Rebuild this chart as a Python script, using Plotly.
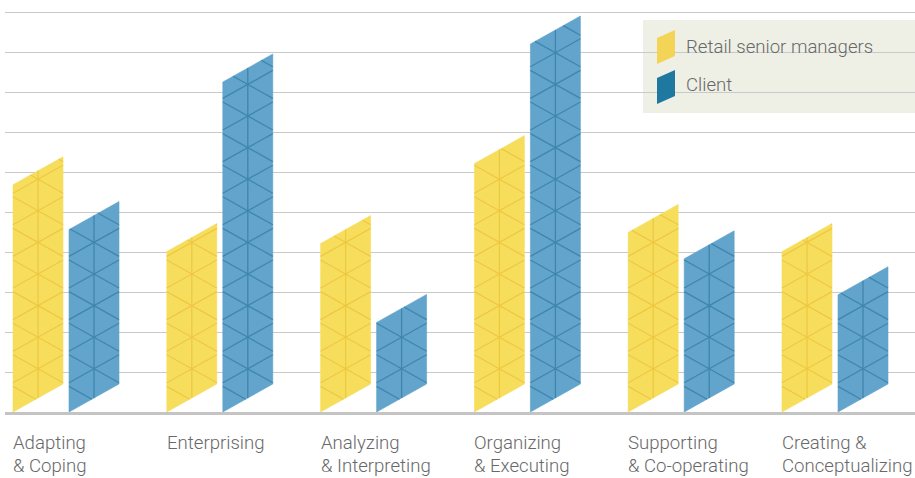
import plotly.graph_objects as go

# ---------------- data ----------------
categories = ["Adapting<br>& Coping", "Enterprising", "Analyzing<br>& Interpreting",
              "Organizing<br>& Executing", "Supporting<br>& Co-operating",
              "Creating &<br>Conceptualizing"]
retail = [5.68, 4.01, 4.21, 6.21, 4.49, 4.01]
client = [4.56, 8.25, 2.24, 9.20, 3.83, 2.93]
series_names = ["Retail senior managers", "Client"]

# ---------------- layout constants ----------------
W, H = 915, 478
ML, MR, MT, MB = 5, 0, 8, 66
PW = W - ML - MR
PH = H - MT - MB           # 404 px
PX_PER_UNIT = 40.0
YMAX = PH / PX_PER_UNIT    # 10.1 -> top gridline (10) stays inside
UPX = 1 / PX_PER_UNIT      # y units per pixel

GROUP_STEP = 153.8
FIRST = 8
BAR_W = 50
PAIR_OFF = 56
SLANT = 28 * UPX
M = SLANT / BAR_W
NODE_STEP = 31.6 * UPX
NODE_PHASE = 0.29

COLORS = [dict(fill="#F6DE5C", line="#EFC843", sw="#F3D457"),
          dict(fill="#62A4CB", line="#3E86AE", sw="#1F78A0")]

TEXT_COLOR = "#686868"
FONT = "Roboto"
FSIZE = 18.6

fig = go.Figure()


def add_bar(left, h, col):
    xs = [left, left + BAR_W, left + BAR_W, left, left]
    ys = [0, SLANT, SLANT + h, h, 0]
    fig.add_trace(go.Scatter(x=xs, y=ys, mode="lines", fill="toself",
                             fillcolor=col["fill"], line=dict(width=0.6, color=col["fill"]),
                             hoverinfo="skip", showlegend=False))
    px, py = [], []
    xc = left + BAR_W / 2
    px += [xc, xc, None]
    py += [SLANT / 2, SLANT / 2 + h, None]
    for k in range(-3, 40):
        yk = NODE_PHASE + k * NODE_STEP
        # rising line (parallel to bar top/bottom)
        c = yk - M * BAR_W / 2
        if 0 < c < h:
            px += [left, left + BAR_W, None]
            py += [c, c + SLANT, None]
        # falling line
        c2 = yk + M * BAR_W / 2
        t_lo = max(0.0, (c2 - h) / (2 * M))
        t_hi = min(BAR_W, c2 / (2 * M))
        if t_lo < t_hi:
            px += [left + t_lo, left + t_hi, None]
            py += [c2 - M * t_lo, c2 - M * t_hi, None]
    fig.add_trace(go.Scatter(x=px, y=py, mode="lines",
                             line=dict(width=1.3, color=col["line"]),
                             hoverinfo="skip", showlegend=False))


label_font = dict(family=FONT, size=FSIZE, color=TEXT_COLOR, weight=300)

for i, (r, c) in enumerate(zip(retail, client)):
    base = FIRST + i * GROUP_STEP
    add_bar(base, r, COLORS[0])
    add_bar(base + PAIR_OFF, c, COLORS[1])
    for ln, part in enumerate(categories[i].split("<br>")):
        fig.add_annotation(x=base, y=0, xref="x", yref="y", text=part,
                           xanchor="left", yanchor="middle",
                           yshift=-31 - 22.7 * ln, xshift=-2, showarrow=False,
                           font=label_font)


# ---------------- legend (custom) ----------------
def ppx(x):
    return (x - ML) / PW


def ppy(y):
    return (MT + PH - y) / PH


fig.add_shape(type="rect", xref="paper", yref="paper",
              x0=ppx(643), x1=ppx(916), y0=ppy(113), y1=ppy(20),
              fillcolor="#EEF0E6", line=dict(width=0), layer="below")

for j, name in enumerate(series_names):
    top = 30 + j * 40
    x0, x1 = ppx(657), ppx(675)
    path = (f"M {x0},{ppy(top + 8)} L {x1},{ppy(top)} L {x1},{ppy(top + 26)} "
            f"L {x0},{ppy(top + 34)} Z")
    fig.add_shape(type="path", xref="paper", yref="paper", path=path,
                  fillcolor=COLORS[j]["sw"], line=dict(width=0))
    fig.add_annotation(x=ppx(684), y=ppy(47 + 38 * j), xref="paper", yref="paper",
                       text=name, xanchor="left", yanchor="middle", showarrow=False,
                       font=label_font)

fig.update_layout(
    width=W, height=H,
    margin=dict(l=ML, r=MR, t=MT, b=MB),
    paper_bgcolor="white", plot_bgcolor="white",
    showlegend=False,
    xaxis=dict(range=[0, PW], showgrid=False, showticklabels=False, zeroline=False,
               showline=True, linecolor="#c4c4c4", linewidth=2.5, ticks="",
               fixedrange=True),
    yaxis=dict(range=[0, YMAX], dtick=1, showgrid=True, gridcolor="#c9c9c9",
               gridwidth=1.3, showticklabels=False, zeroline=False, ticks="",
               fixedrange=True),
)

fig.write_html("out.html", config={"displayModeBar": False},
               post_script="document.body.style.margin='0px';")
